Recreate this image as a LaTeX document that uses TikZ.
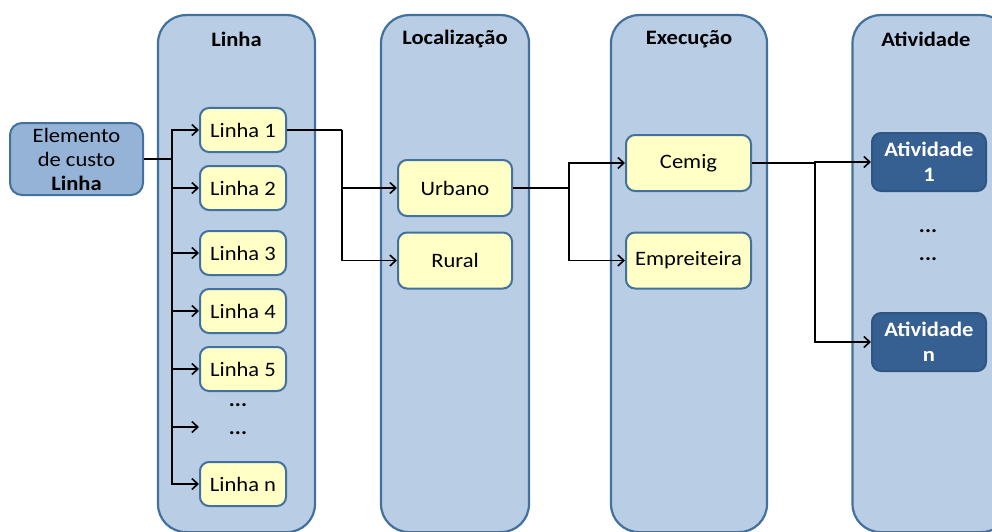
\documentclass[tikz,border=0pt]{standalone}
\usepackage{fontspec}
\setmainfont{Carlito}[FakeStretch=1.1]
\usetikzlibrary{arrows.meta}
\definecolor{colfill}{HTML}{B9CDE5}
\definecolor{colborder}{HTML}{41719C}
\definecolor{yfill}{HTML}{FFFFC6}
\definecolor{elemfill}{HTML}{95B3D7}
\definecolor{atfill}{HTML}{366092}
\definecolor{atborder}{HTML}{2E5583}
\tikzset{
  column/.style={draw=colborder, fill=colfill, line width=2.2pt, rounded corners=28pt, anchor=north, minimum height=517pt, inner sep=0pt},
  header/.style={font=\fontsize{20.5}{24}\selectfont\bfseries},
  ybox/.style={draw=colborder, fill=yfill, line width=2pt, rounded corners=9pt, font=\fontsize{20.5}{24}\selectfont, inner sep=0pt},
  elembox/.style={draw=colborder, fill=elemfill, line width=2pt, rounded corners=12pt, font=\fontsize{20.5}{24}\selectfont, align=center, inner sep=0pt, minimum width=133pt, minimum height=72pt},
  atbox/.style={draw=atborder, fill=atfill, line width=2pt, rounded corners=9pt, font=\fontsize{20.5}{25}\selectfont\bfseries, text=white, align=center, inner sep=0pt, minimum width=114pt, minimum height=58pt},
  dots/.style={font=\fontsize{20.5}{24}\selectfont\bfseries},
  conn/.style={draw=black, line width=1.6pt},
  arr/.style={conn, -{Straight Barb[length=6pt,width=11pt,line width=1.6pt]}},
}
\begin{document}
\begin{tikzpicture}[x=1pt,y=-1pt]
\useasboundingbox (0,0) rectangle (992,532);
\clip (0,0) rectangle (992,532);
% columns
\node[column, minimum width=157pt] (c1) at (236.5,14) {};
\node[column, minimum width=148pt] (c2) at (455,14) {};
\node[column, minimum width=156pt] (c3) at (689,14) {};
\node[column, minimum width=157pt] (c4) at (931,14) {};
\node[header] (h1) at (236.5,39) {Linha};
\node[header] (h2) at (455,39) {Localização};
\node[header] (h3) at (689,39) {Execução};
\node[header] (h4) at (926,39) {Atividade};
% element
\node[elembox] (elem) at (76.5,159) {Elemento\\de custo\\\textbf{Linha}};
% linha boxes
\foreach \n/\y/\t in {l1/130/Linha 1, l2/188/Linha 2, l3/253/Linha 3, l4/311/Linha 4, l5/369/Linha 5, ln/484/Linha n}
  \node[ybox, minimum width=86pt, minimum height=44pt] (\n) at (243,\y) {\t};
\node[dots] (ld1) at (238,405) {...};
\node[dots] (ld2) at (238,433) {...};
% localizacao
\node[ybox, minimum width=114pt, minimum height=56pt] (urb) at (455,188) {Urbano};
\node[ybox, minimum width=114pt, minimum height=56pt] (rur) at (455,260.5) {Rural};
% execucao
\node[ybox, minimum width=125pt, minimum height=56pt] (cem) at (688.5,163) {Cemig};
\node[ybox, minimum width=125pt, minimum height=56pt] (emp) at (688.5,260.5) {Empreiteira};
% atividade
\node[atbox] (a1) at (929,162) {Atividade\\1};
\node[dots] (ad1) at (928,231) {...};
\node[dots] (ad2) at (928,259) {...};
\node[atbox] (an) at (929,342) {Atividade\\n};
% connectors
\coordinate (tr) at (172,0);
\coordinate (m1) at (342,0);
\coordinate (m2) at (569,0);
\coordinate (m3) at (815,0);
\coordinate (dend) at (199,427);
\draw[conn] (elem.east) -- (elem.east -| tr);
\foreach \n in {l1,l2,l3,l4,l5,ln}
  \draw[arr] (elem.east -| tr) |- (\n.west);
\draw[arr] (elem.east -| tr) |- (dend);
\draw[conn] (l1.east) -- (l1.east -| m1);
\draw[arr] (l1.east -| m1) |- (urb.west);
\draw[arr] (l1.east -| m1) |- (rur.west);
\draw[conn] (urb.east) -- (urb.east -| m2);
\draw[arr] (urb.east -| m2) |- (cem.west);
\draw[arr] (urb.east -| m2) |- (emp.west);
\draw[conn] (cem.east) -- (cem.east -| m3);
\draw[arr] (cem.east -| m3) |- (a1.west);
\draw[arr] (cem.east -| m3) |- (an.west);
\end{tikzpicture}
\end{document}
